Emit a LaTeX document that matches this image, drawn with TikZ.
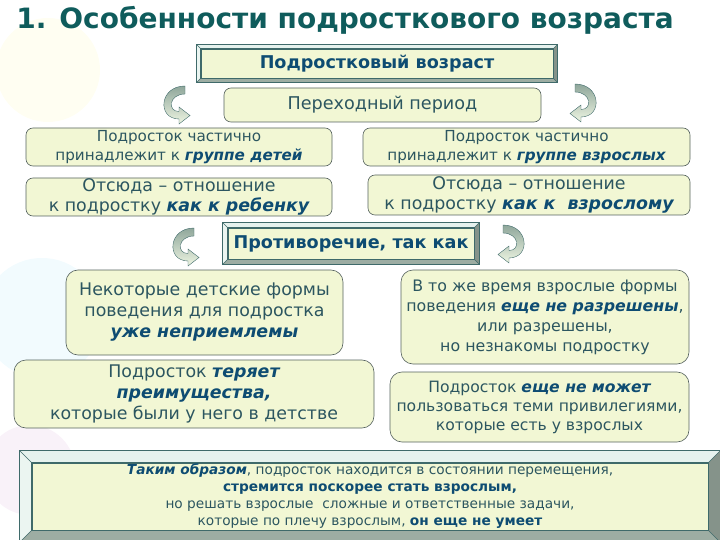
\documentclass[tikz,border=0pt]{standalone}
\usepackage{fontspec}
\setmainfont{DejaVu Sans}
\usetikzlibrary{calc,positioning}

\definecolor{titlecol}{HTML}{0F5C5C}
\definecolor{txtcol}{HTML}{2C5660}
\definecolor{emph}{HTML}{0E4C72}
\definecolor{boxfill}{HTML}{F2F7D4}
\definecolor{boxline}{HTML}{55625E}
\definecolor{bevline}{HTML}{3F6A6A}
\definecolor{bevlight}{HTML}{E6F2EE}
\definecolor{bevdark}{HTML}{9DADA3}
\definecolor{arrowdark}{HTML}{8FA79B}
\definecolor{arrowlight}{HTML}{EEF5E2}

\tikzset{softbox/.style={draw=boxline,fill=boxfill,rounded corners=7pt,line width=0.6pt,
        align=center,inner sep=0pt,text=txtcol},
    bevelbox/.style={draw=bevline,fill=boxfill,line width=0.6pt,align=center,inner sep=0pt,
        text=emph,font=\bfseries\fontsize{17.6}{20}\selectfont},
    turn/.style={draw=bevline,line width=0.4pt,top color=arrowdark,bottom color=arrowlight},
    smalltxt/.style={font=\fontsize{15.2}{19}\selectfont},
    midtxt/.style={font=\fontsize{17.4}{19.5}\selectfont},
    bigtxt/.style={font=\fontsize{17.4}{21}\selectfont}}

\newcommand{\hl}[1]{\textcolor{emph}{\bfseries\itshape #1}}
% bevelled frame round a node: node, width, light and dark colour
\newcommand{\bevelframe}[4]{%
    \fill[#3] (#1.north west) -- (#1.north east) -- ($(#1.north east)+(#2,#2)$)
        -- ($(#1.north west)+(-#2,#2)$) -- cycle;
    \fill[#3!80!white] (#1.north west) -- (#1.south west) -- ($(#1.south west)+(-#2,-#2)$)
        -- ($(#1.north west)+(-#2,#2)$) -- cycle;
    \fill[#4] (#1.south west) -- (#1.south east) -- ($(#1.south east)+(#2,-#2)$)
        -- ($(#1.south west)+(-#2,-#2)$) -- cycle;
    \fill[#4!85!black] (#1.north east) -- (#1.south east) -- ($(#1.south east)+(#2,-#2)$)
        -- ($(#1.north east)+(#2,#2)$) -- cycle;
    \draw[bevline,line width=0.5pt] (#1.north west) -- ++(-#2,#2) (#1.north east) -- ++(#2,#2)
        (#1.south west) -- ++(-#2,-#2) (#1.south east) -- ++(#2,-#2);
    \draw[bevline,line width=0.6pt] ($(#1.north west)+(-#2,#2)$) rectangle ($(#1.south east)+(#2,-#2)$)
        (#1.north west) rectangle (#1.south east);}
% curved turning arrow, top end at the origin
\newcommand{\turnarrow}{%
    \path[turn] (0,0) .. controls (-26,0) and (-28,-33) .. (-6,-33) -- (-6,-38) -- (5,-29.5)
        -- (-6,-21) -- (-6,-25.5) .. controls (-18,-25.5) and (-16,-8) .. (0,-8) -- cycle;}

\begin{document}
\begin{tikzpicture}[x=1pt,y=1pt]
    \useasboundingbox (0,0) rectangle (720,-540);
    \clip (0,0) rectangle (720,-540);

    % faint balloons behind
    \fill[yellow!5] (48,-70) circle (52);
    \fill[cyan!5] (42,-318) circle (60);
    \fill[violet!5] (30,-470) circle (45);

    % title
    \node[text=titlecol,font=\bfseries\fontsize{28}{30}\selectfont] (title) at (345,-20)
        {1. Особенности подросткового возраста};

    % top of the scheme
    \node[bevelbox,minimum width=352,minimum height=29] (age) at (377,-63.5) {Подростковый возраст};
    \bevelframe{age}{4}{bevlight}{bevdark}
    \node[softbox,font=\fontsize{17.6}{20}\selectfont,minimum width=317,minimum height=34] (trans)
        at (382.5,-105) {Переходный период};

    \begin{scope}[shift={(185,-86)}] \turnarrow \end{scope}
    \begin{scope}[shift={(575,-84)},xscale=-1] \turnarrow \end{scope}

    % two sides
    \node[softbox,smalltxt,minimum width=306,minimum height=38] (childgrp) at (179,-147)
        {Подросток частично\\принадлежит к \hl{группе детей}};
    \node[softbox,smalltxt,minimum width=327,minimum height=38] (adultgrp) at (526.5,-147)
        {Подросток частично\\принадлежит к \hl{группе взрослых}};
    \node[softbox,midtxt,minimum width=306,minimum height=38] (childrel) at (179,-197)
        {Отсюда – отношение\\к подростку \hl{как к ребенку}};
    \node[softbox,midtxt,minimum width=322,minimum height=40] (adultrel) at (529,-195)
        {Отсюда – отношение\\к подростку \hl{как к \ взрослому}};

    % contradiction
    \node[bevelbox,minimum width=246,minimum height=31] (contra) at (351,-243.5) {Противоречие, так как};
    \bevelframe{contra}{5}{bevlight}{bevdark}
    \begin{scope}[shift={(194,-228)}] \turnarrow \end{scope}
    \begin{scope}[shift={(503,-225)}] \begin{scope}[xscale=-1] \turnarrow \end{scope} \end{scope}

    \node[softbox,bigtxt,rounded corners=12pt,minimum width=277,minimum height=85] (notok)
        at (204.5,-312.5) {Некоторые детские формы\\поведения для подростка\\\hl{уже неприемлемы}};
    \node[softbox,font=\fontsize{15.8}{20}\selectfont,rounded corners=12pt,minimum width=288,
        minimum height=94] (notyet) at (545,-317) {В то же время взрослые формы\\
        поведения \hl{еще не разрешены},\\или разрешены,\\но незнакомы подростку};
    \node[softbox,bigtxt,rounded corners=12pt,minimum width=360,minimum height=68] (loses)
        at (194,-394) {Подросток \hl{теряет}\\\hl{преимущества,}\\которые были у него в детстве};
    \node[softbox,font=\fontsize{15.6}{19}\selectfont,rounded corners=12pt,minimum width=299,
        minimum height=70] (cannot) at (539.5,-407) {Подросток \hl{еще не может}\\
        пользоваться теми привилегиями,\\которые есть у взрослых};

    % conclusion
    \node[bevelbox,font=\fontsize{13.7}{17}\selectfont,text=txtcol,minimum width=676,minimum height=67]
        (summary) at (370,-496.5) {\hl{Таким образом}, подросток находится в состоянии перемещения,\\
        \textcolor{emph}{\bfseries стремится поскорее стать взрослым,}\\
        но решать взрослые \ сложные и ответственные задачи,\\
        которые по плечу взрослым, \textcolor{emph}{\bfseries он еще не умеет}};
    \bevelframe{summary}{12}{bevlight}{bevdark}
\end{tikzpicture}
\end{document}
